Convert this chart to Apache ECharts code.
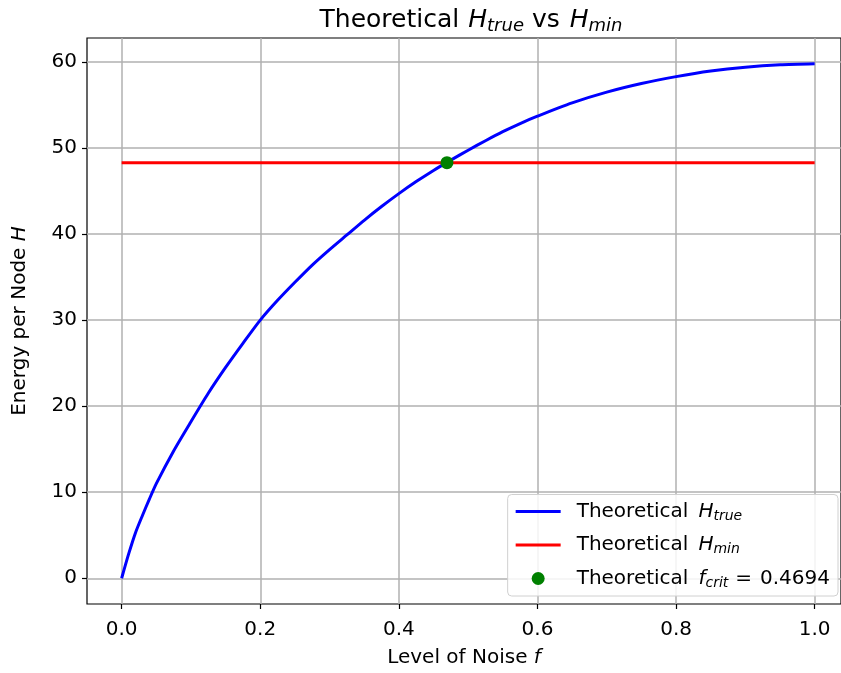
<!DOCTYPE html>
<html>
<head>
<meta charset="utf-8">
<script src="https://cdn.jsdelivr.net/npm/echarts@6/dist/echarts.min.js"></script>
<style>
  html, body { margin: 0; padding: 0; background: #fff; }
  #chart { width: 841px; height: 673px; }
</style>
</head>
<body>
<div id="chart"></div>
<script>
// values
const noiseLevels = [0, 0.01, 0.02, 0.03, 0.04, 0.05, 0.075, 0.1, 0.125, 0.15, 0.175, 0.2, 0.225, 0.25,
  0.275, 0.3, 0.325, 0.35, 0.375, 0.4, 0.425, 0.45, 0.475, 0.5, 0.525, 0.55, 0.575, 0.6, 0.65,
  0.7, 0.75, 0.8, 0.85, 0.9, 0.95, 1.0];
const hTrue = [0, 2.8, 5.3, 7.3, 9.2, 11.0, 14.8, 18.2, 21.5, 24.5, 27.3, 30.0, 32.3, 34.4,
  36.4, 38.2, 39.9, 41.6, 43.2, 44.7, 46.1, 47.4, 48.6, 49.75, 50.85, 51.9, 52.85, 53.7, 55.25,
  56.5, 57.5, 58.3, 58.95, 59.4, 59.68, 59.8];
const hMinRange = [0, 1.0];
const hMin = 48.3;
const fCrit = 0.4694;
const xTicks = [0, 0.2, 0.4, 0.6, 0.8, 1.0];
const yTicks = [0, 10, 20, 30, 40, 50, 60];

const chart = echarts.init(document.getElementById('chart'));
const font = 'DejaVu Sans';

const richText = (size, gap) => ({
  n: { fontFamily: font, fontSize: size, fontWeight: 'normal', color: '#000' },
  i: { fontFamily: font, fontSize: size, fontWeight: 'normal', fontStyle: 'italic', color: '#000', padding: [0, 0, 0, gap] },
  j: { fontFamily: font, fontSize: size, fontWeight: 'normal', fontStyle: 'italic', color: '#000', padding: [0, 0, 0, 2] },
  s: {
    fontFamily: font, fontSize: Math.round(size * 0.72), fontWeight: 'normal', fontStyle: 'italic',
    color: '#000', padding: [Math.round(size * 0.45), 0, 0, 0]
  },
  e: { fontFamily: font, fontSize: size, fontWeight: 'normal', color: '#000', padding: [0, 8, 0, 7] }
});

const legendNames = {
  'Theoretical Htrue': '{n|Theoretical}{i|H}{s|true}',
  'Theoretical Hmin': '{n|Theoretical}{i|H}{s|min}',
  'Theoretical fcrit': '{n|Theoretical}{i|f}{s|crit}{e|=}{n|0.4694}'
};
// plain line icon for the legend (tiny corner dots keep the box size)
const lineIcon = 'path://M0,0L0.01,0L0,0.01Z M0,5H45V8H0Z M45,13L44.99,13L45,12.99Z';

const option = {
  animation: false,
  title: {
    text: '{n|Theoretical}{i|H}{s|true}{n| vs }{j|H}{s|min}',
    left: 466,
    textAlign: 'center',
    top: 1,
    textStyle: { fontWeight: 'normal', rich: richText(25, 9) }
  },
  grid: {
    left: 87,
    top: 38,
    right: 0,
    bottom: 66,
    show: true,
    borderColor: '#000',
    borderWidth: 1.2
  },
  xAxis: {
    type: 'value',
    min: -0.05,
    max: 1.038,
    name: '{n|Level of Noise }{i|f}',
    nameLocation: 'middle',
    nameGap: 44,
    nameTextStyle: { rich: richText(20, 0) },
    axisLine: { show: false, onZero: false },
    axisTick: { show: true, length: 5, customValues: xTicks, lineStyle: { color: '#000', width: 1.2 } },
    axisLabel: {
      customValues: xTicks,
      fontFamily: font, fontSize: 20, color: '#000', margin: 16,
      formatter: v => v.toFixed(1)
    },
    splitLine: { show: true, lineStyle: { color: '#b0b0b0', width: 1.5 } }
  },
  yAxis: {
    type: 'value',
    min: -2.99,
    max: 62.79,
    name: '{n|Energy per Node }{i|H}',
    nameLocation: 'middle',
    nameGap: 57,
    nameTextStyle: { rich: richText(20, 0) },
    axisLine: { show: false, onZero: false },
    axisTick: { show: true, length: 5, customValues: yTicks, lineStyle: { color: '#000', width: 1.2 } },
    axisLabel: {
      customValues: yTicks,
      fontFamily: font, fontSize: 20, color: '#000', margin: 10
    },
    splitLine: { show: true, lineStyle: { color: '#b0b0b0', width: 1.5 } }
  },
  legend: {
    orient: 'vertical',
    right: 3,
    bottom: 77,
    itemWidth: 45,
    itemHeight: 13,
    itemGap: 12,
    padding: [7, 8, 6, 8],
    backgroundColor: 'rgba(255,255,255,0.85)',
    borderColor: '#d0d0d0',
    borderWidth: 1,
    borderRadius: 4,
    textStyle: { rich: richText(20, 10), padding: [0, 0, 0, 11] },
    formatter: name => legendNames[name],
    data: [
      { name: 'Theoretical Htrue', icon: lineIcon },
      { name: 'Theoretical Hmin', icon: lineIcon },
      { name: 'Theoretical fcrit', icon: 'circle' }
    ]
  },
  series: [
    {
      name: 'Theoretical Htrue',
      type: 'line',
      smooth: 0.25,
      symbol: 'none',
      lineStyle: { color: '#0000ff', width: 3 },
      itemStyle: { color: '#0000ff' },
      data: noiseLevels.map((f, i) => [f, hTrue[i]]),
      z: 3
    },
    {
      name: 'Theoretical Hmin',
      type: 'line',
      symbol: 'none',
      lineStyle: { color: '#ff0000', width: 3 },
      itemStyle: { color: '#ff0000' },
      data: hMinRange.map(f => [f, hMin]),
      z: 4
    },
    {
      name: 'Theoretical fcrit',
      type: 'scatter',
      symbolSize: 13,
      itemStyle: { color: '#008000', opacity: 1 },
      data: [[fCrit, hMin]],
      z: 5
    }
  ]
};

chart.setOption(option);
</script>
</body>
</html>
